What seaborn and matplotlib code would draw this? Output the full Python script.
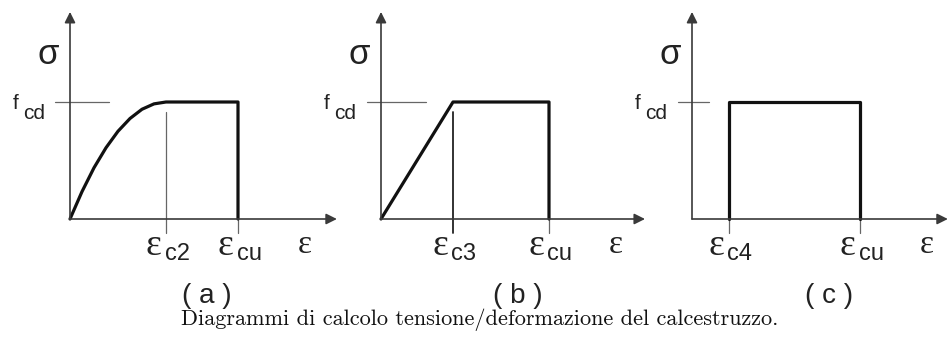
import seaborn as sns
import matplotlib.pyplot as plt
import pandas as pd

# strain values in per mille, stress as fraction of fcd
eps_cu = 3.5
eps_c2 = 2.0
eps_c3 = 1.5
eps_c4 = 0.77

# (a) parabola-rectangle
strain_a = [0.0, 0.25, 0.5, 0.75, 1.0, 1.25, 1.5, 1.75, 2.0, 3.5, 3.5]
stress_a = [0.0, 0.234, 0.438, 0.609, 0.75, 0.859, 0.938, 0.984, 1.0, 1.0, 0.0]
# (b) bilinear
strain_b = [0.0, 1.5, 3.5, 3.5]
stress_b = [0.0, 1.0, 1.0, 0.0]
# (c) stress block
strain_c = [0.77, 0.77, 3.5, 3.5]
stress_c = [0.0, 1.0, 1.0, 0.0]

panel_tags = ["( a )", "( b )", "( c )"]
first_marks = [eps_c2, eps_c3, eps_c4]
first_subs = ["c2", "c3", "c4"]
x_arrow_end = [5.56, 5.5, 5.33]
caption = "Diagrammi di calcolo tensione/deformazione del calcestruzzo."

sns.set_style("white")
plt.rcParams["font.family"] = ["Liberation Sans", "DejaVu Sans"]
eps_font = ["Liberation Serif", "DejaVu Serif"]

W, H = 950, 340
PX_X, PX_Y = 48.0, 117.0   # pixels per unit strain / unit stress
fig = plt.figure(figsize=(W / 100, H / 100), dpi=100)

axis_col = "#3a3a3a"
thin_col = "#666666"
origins = [70, 381, 692]
fcd_tick = [(-15, 39), (-14, 45), (-14, 17)]
curves = [(strain_a, stress_a), (strain_b, stress_b), (strain_c, stress_c)]

for i, ox in enumerate(origins):
    left = ox - 70
    ax = fig.add_axes([left / W, 0, 340 / W, 1])

    # axes arrows
    ax.annotate("", xy=(x_arrow_end[i], 0), xytext=(0, 0),
                arrowprops=dict(arrowstyle="-|>", lw=1.2, color=axis_col,
                                mutation_scale=16, shrinkA=0, shrinkB=0))
    ax.annotate("", xy=(0, 1.77), xytext=(0, 0),
                arrowprops=dict(arrowstyle="-|>", lw=1.2, color=axis_col,
                                mutation_scale=16, shrinkA=0, shrinkB=0))

    # fcd tick line
    t0, t1 = fcd_tick[i]
    ax.plot([t0 / PX_X, t1 / PX_X], [1.0, 1.0], color=thin_col, lw=0.9)

    # strain marks below the axis
    e1 = first_marks[i]
    tick_bot = -14 / PX_Y
    if i < 2:
        ax.plot([e1, e1], [1 - 10 / PX_Y, tick_bot],
                color=thin_col if i == 0 else "#222222",
                lw=0.9 if i == 0 else 1.3)
    else:
        ax.plot([e1, e1], [0, tick_bot], color=thin_col, lw=0.9)
    ax.plot([eps_cu, eps_cu], [0, tick_bot], color=thin_col, lw=0.9)

    # stress-strain curve
    xs, ys = curves[i]
    df = pd.DataFrame({"strain": xs, "stress": ys})
    sns.lineplot(data=df, x="strain", y="stress", ax=ax, sort=False,
                 estimator=None, color="#111111", lw=2.3)
    ax.set_xlim(-70 / PX_X, 270 / PX_X)
    ax.set_ylim(-(H - 219) / PX_Y, 219 / PX_Y)
    ax.axis("off")

    # labels
    kw = dict(textcoords="offset pixels", ha="center", va="center", color="#222222")
    ax.annotate("σ", xy=(0, 0), xytext=(-22, 165), fontsize=25, **kw)
    ax.annotate("f", xy=(0, 1.0), xytext=(-54, -1), fontsize=15, **kw)
    ax.annotate("cd", xy=(0, 1.0), xytext=(-36, -11), fontsize=15, **kw)
    for e, sub in [(e1, first_subs[i]), (eps_cu, "cu")]:
        ax.annotate("ε", xy=(e, 0), xytext=(-13, -27), fontsize=27,
                    family=eps_font, **kw)
        ax.annotate(sub, xy=(e, 0), xytext=(11, -35), fontsize=17, **kw)
    ax.annotate("ε", xy=(0, 0), xytext=(235, -26), fontsize=24,
                family=eps_font, **kw)
    ax.annotate(panel_tags[i], xy=(0, 0), xytext=(137, -77), fontsize=20, **kw)

fig.text(480 / W, 15 / H, caption, family="cmr10", fontsize=16,
         ha="center", va="baseline", color="#111111")

fig.savefig("out.png", dpi=100)
